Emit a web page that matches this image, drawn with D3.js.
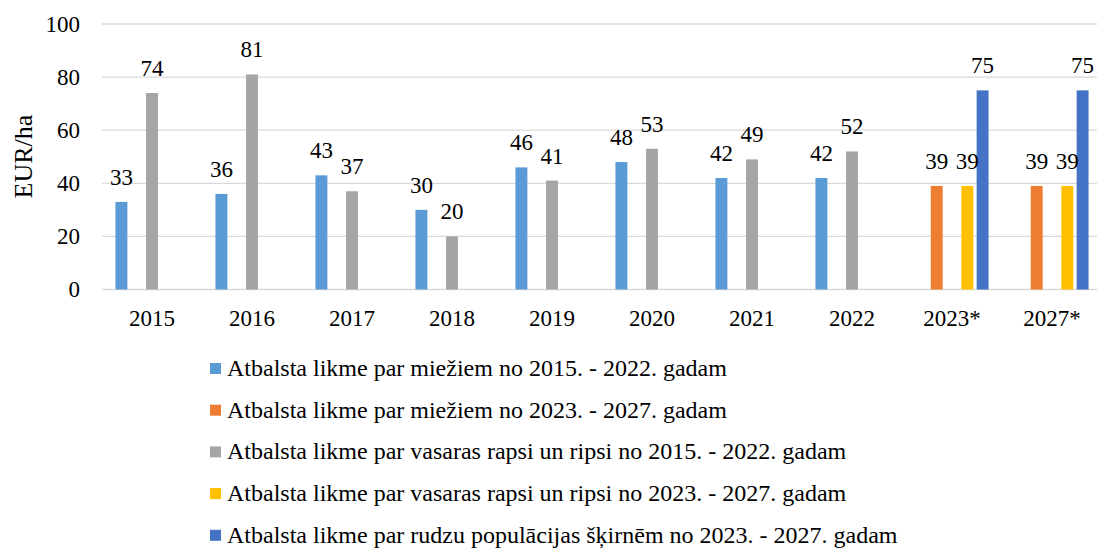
<!DOCTYPE html>
<html>
<head>
<meta charset="utf-8">
<script src="https://cdn.jsdelivr.net/npm/d3@7"></script>
<style>
  body { margin: 0; background: #fff; }
  svg text { font-family: "Liberation Serif", "Times New Roman", serif; fill: #000; }
</style>
</head>
<body>
<svg id="chart" width="1097" height="549"></svg>
<script>
const categories = ["2015", "2016", "2017", "2018", "2019", "2020", "2021", "2022", "2023*", "2027*"]
const seriesNames = [
  "Atbalsta likme par miežiem no 2015. - 2022. gadam",
  "Atbalsta likme par miežiem no 2023. - 2027. gadam",
  "Atbalsta likme par vasaras rapsi un ripsi no 2015. - 2022. gadam",
  "Atbalsta likme par vasaras rapsi un ripsi no 2023. - 2027. gadam",
  "Atbalsta likme par rudzu populācijas šķirnēm no 2023. - 2027. gadam"
]
const barley1522 = [33, 36, 43, 30, 46, 48, 42, 42, null, null]
const barley2327 = [null, null, null, null, null, null, null, null, 39, 39]
const rape1522 = [74, 81, 37, 20, 41, 53, 49, 52, null, null]
const rape2327 = [null, null, null, null, null, null, null, null, 39, 39]
const rye2327 = [null, null, null, null, null, null, null, null, 75, 75]
const yTicks = [0, 20, 40, 60, 80, 100]
const colors = ["#5B9BD5", "#ED7D31", "#A5A5A5", "#FFC000", "#4472C4"]

const seriesValues = [barley1522, barley2327, rape1522, rape2327, rye2327]

const svg = d3.select("#chart")

// Scales
const x = d3.scaleBand()
  .domain(categories)
  .range([102, 1102])
  .paddingInner(0.235)
  .paddingOuter(0.1175)

const xs = d3.scaleBand()
  .domain(d3.range(seriesNames.length))
  .range([0, x.bandwidth()])
  .paddingInner(0.22)
  .paddingOuter(0.11)

const y = d3.scaleLinear()
  .domain([0, 100])
  .range([289.5, 24])

// Gridlines
svg.append("g")
  .selectAll("line")
  .data(yTicks)
  .enter()
  .append("line")
  .attr("x1", 102)
  .attr("x2", 1097)
  .attr("y1", d => y(d))
  .attr("y2", d => y(d))
  .attr("stroke", "#D9D9D9")
  .attr("stroke-width", 1.3)

// Y axis tick labels
const yAxis = svg.append("g")
  .attr("transform", "translate(88,0)")
  .call(d3.axisLeft(y).tickValues(yTicks).tickSize(0).tickPadding(8))
yAxis.select(".domain").remove()
yAxis.selectAll("text")
  .style("font-family", '"Liberation Serif", "Times New Roman", serif')
  .style("font-size", "23px")
  .attr("fill", "#000")

// Y title
svg.append("text")
  .attr("transform", "translate(31.5,156.5) rotate(-90)")
  .attr("text-anchor", "middle")
  .style("font-size", "26px")
  .text("EUR/ha")

// X axis labels
const xAxis = svg.append("g")
  .attr("transform", `translate(0,${y(0)})`)
  .call(d3.axisBottom(x).tickSize(0).tickPadding(20))
xAxis.select(".domain").remove()
xAxis.selectAll("text")
  .style("font-family", '"Liberation Serif", "Times New Roman", serif')
  .style("font-size", "23px")
  .attr("fill", "#000")

// Bars
const points = []
seriesValues.forEach((vals, s) => {
  vals.forEach((v, i) => {
    if (v != null) points.push({ s, cat: categories[i], v })
  })
})

svg.append("g")
  .selectAll("rect")
  .data(points)
  .enter()
  .append("rect")
  .attr("x", d => x(d.cat) + xs(d.s))
  .attr("y", d => y(d.v))
  .attr("width", xs.bandwidth())
  .attr("height", d => y(0) - y(d.v))
  .attr("fill", d => colors[d.s])

// Data labels
svg.append("g")
  .selectAll("text")
  .data(points)
  .enter()
  .append("text")
  .attr("x", d => x(d.cat) + xs(d.s) + xs.bandwidth() / 2)
  .attr("y", d => y(d.v) - 17)
  .attr("text-anchor", "middle")
  .style("font-size", "23px")
  .text(d => d.v)

// Legend
const legend = svg.append("g")
  .selectAll("g")
  .data(seriesNames)
  .enter()
  .append("g")
  .attr("transform", (d, i) => `translate(210,${376 + i * 41.7})`)

legend.append("rect")
  .attr("x", 0)
  .attr("y", -13)
  .attr("width", 11)
  .attr("height", 11)
  .attr("fill", (d, i) => colors[i])

legend.append("text")
  .attr("x", 17)
  .attr("y", 0)
  .style("font-size", "24px")
  .text(d => d)
</script>
</body>
</html>
